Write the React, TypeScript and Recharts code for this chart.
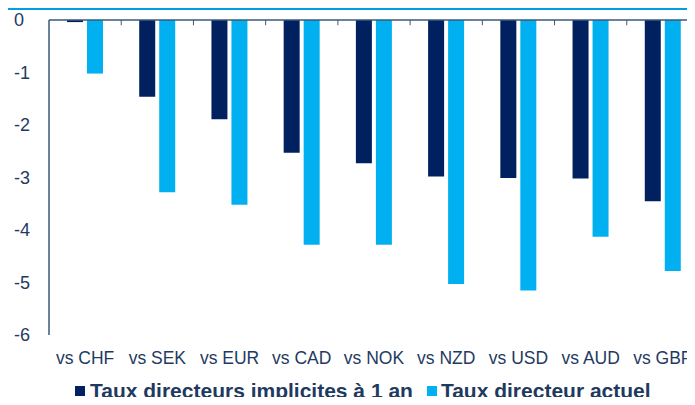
import React from "react";
import { BarChart, Bar, XAxis, YAxis, ReferenceLine } from "recharts";

const categories = ["vs CHF", "vs SEK", "vs EUR", "vs CAD", "vs NOK", "vs NZD", "vs USD", "vs AUD", "vs GBP"];
const implicitRate = [-0.04, -1.46, -1.89, -2.53, -2.73, -2.98, -3.01, -3.02, -3.45];
const currentRate = [-1.02, -3.28, -3.52, -4.28, -4.28, -5.03, -5.15, -4.13, -4.78];
const yTicks = [0, -1, -2, -3, -4, -5, -6];
const TICK_DEPTH = -0.1; // short category separators hanging from the zero line

const NAVY = "#002060";
const CYAN = "#00B0F0";
const TEXT = "#1F3A5F";
const AXIS = "#3B5878";
const FONT = "'Liberation Sans', Arial, sans-serif";

const data = categories.map((name, i) => ({
  name,
  implicit: implicitRate[i],
  current: currentRate[i],
}));

const YTick = (props: any) => {
  const { y, payload } = props;
  return (
    <text x={14} y={y} dy="0.36em" textAnchor="start" fill={TEXT} fontSize={18} fontFamily={FONT}>
      {payload.value}
    </text>
  );
};

const ChartLegend = () => (
  <div
    style={{
      position: "absolute",
      left: 75,
      top: 379,
      display: "flex",
      alignItems: "center",
      height: 24,
      fontFamily: FONT,
      fontWeight: "bold",
      fontSize: 21,
      lineHeight: "24px",
      color: TEXT,
      whiteSpace: "nowrap",
    }}
  >
    <span style={{ width: 10, height: 10, background: NAVY, marginRight: 5 }} />
    <span style={{ marginRight: 14 }}>Taux directeurs implicites à 1 an</span>
    <span style={{ width: 10, height: 10, background: CYAN, marginRight: 4 }} />
    <span>Taux directeur actuel</span>
  </div>
);

export default function App() {
  return (
    <div style={{ position: "relative", margin: -8, width: 695, height: 405, overflow: "hidden", background: "#fff" }}>
      <div style={{ position: "absolute", left: 0, top: 0, width: 695, height: 10, background: "#009FE0" }} />
      <BarChart
        width={700}
        height={405}
        data={data}
        margin={{ top: 20, right: 1, left: 0, bottom: 40 }}
        barSize={16}
        barGap={4}
      >
        <XAxis
          dataKey="name"
          axisLine={false}
          tickLine={false}
          tickSize={0}
          tickMargin={17}
          height={30}
          interval={0}
          tick={{ fill: TEXT, fontSize: 17.5, fontFamily: FONT }}
        />
        <YAxis
          domain={[-6, 0]}
          ticks={yTicks}
          width={49}
          tickLine={false}
          axisLine={{ stroke: AXIS, strokeWidth: 1.5 }}
          tick={<YTick />}
        />
        <Bar dataKey="implicit" name="Taux directeurs implicites à 1 an" fill={NAVY} isAnimationActive={false} />
        <Bar dataKey="current" name="Taux directeur actuel" fill={CYAN} isAnimationActive={false} />
        <ReferenceLine y={0} stroke={AXIS} strokeWidth={1.5} ifOverflow="visible" />
        {categories.slice(0, -1).map((c) => (
          <ReferenceLine
            key={c}
            position="end"
            segment={[
              { x: c, y: 0 },
              { x: c, y: TICK_DEPTH },
            ]}
            stroke={AXIS}
            strokeWidth={1}
            ifOverflow="visible"
          />
        ))}
      </BarChart>
      <ChartLegend />
    </div>
  );
}
